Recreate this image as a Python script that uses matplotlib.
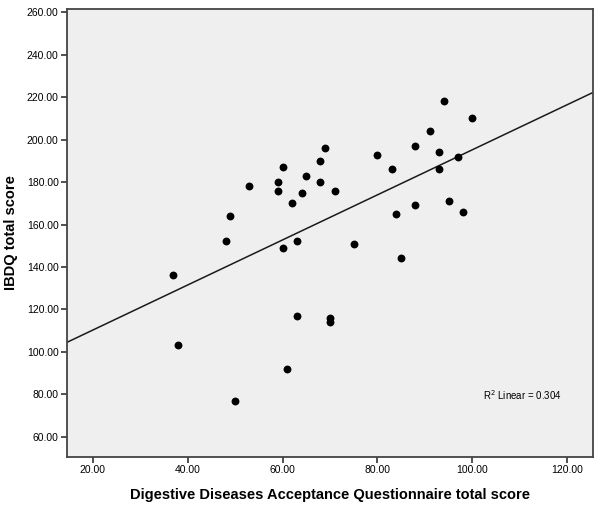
import matplotlib.pyplot as plt
import numpy as np

# DDAQ total score (x) vs IBDQ total score (y)
ddaq = [37, 38, 48, 49, 50, 53, 59, 59, 60, 60, 61, 62, 63, 63, 64, 65, 68, 68, 69,
        70, 70, 71, 75, 80, 83, 84, 85, 88, 88, 91, 93, 93, 94, 95, 97, 98, 100]
ibdq = [136, 103, 152, 164, 77, 178, 180, 176, 187, 149, 92, 170, 152, 117, 175, 183, 190, 180, 196,
        116, 114, 176, 151, 193, 186, 165, 144, 197, 169, 204, 194, 186, 218, 171, 192, 166, 210]
x_ticks = [20, 40, 60, 80, 100, 120]
y_ticks = [60, 80, 100, 120, 140, 160, 180, 200, 220, 240, 260]
r2_text = 'R$^2$ Linear = 0.304'

plt.rcParams['font.family'] = ['Liberation Sans', 'DejaVu Sans']

fig = plt.figure(figsize=(6.02, 5.14), dpi=100)
ax = fig.add_axes([0.1113, 0.1109, 0.8737, 0.8716])
ax.set_facecolor('#efefef')

x = np.array(ddaq, dtype=float)
y = np.array(ibdq, dtype=float)
ax.scatter(x, y, s=32, color='black', zorder=3, linewidths=0)

# fit line across whole axis
xlim = (14.6, 125.4)
slope, intercept = np.polyfit(x, y, 1)
xs = np.array(xlim)
ax.plot(xs, intercept + slope * xs, color='#1a1a1a', lw=1.1, zorder=2)

ax.set_xlim(*xlim)
ax.set_ylim(50.4, 261.6)
ax.set_xticks(x_ticks)
ax.set_xticklabels([f'{v:.2f}' for v in x_ticks])
ax.set_yticks(y_ticks)
ax.set_yticklabels([f'{v:.2f}' for v in y_ticks])
ax.tick_params(direction='out', length=4, width=1.2, labelsize=7.5, color='#333333', pad=2)

for side in ['top', 'right', 'left', 'bottom']:
    ax.spines[side].set_color('#444444')
    ax.spines[side].set_linewidth(1.3)

ax.set_xlabel('Digestive Diseases Acceptance Questionnaire total score', fontsize=10.5,
              fontweight='bold', labelpad=9)
ax.set_ylabel('IBDQ total score', fontsize=10.5, fontweight='bold', labelpad=6)

ax.text(0.79, 0.138, r2_text, transform=ax.transAxes, fontsize=7, ha='left', va='center')

plt.savefig('out.png', dpi=100)
plt.close()
